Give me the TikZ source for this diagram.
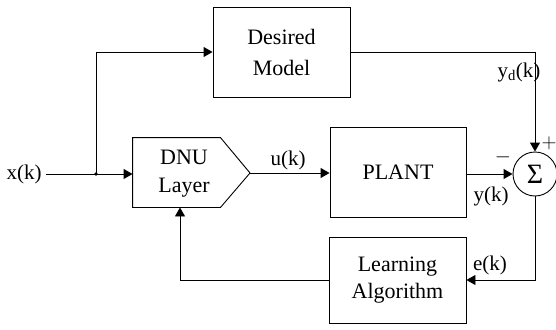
\documentclass[tikz,border=0pt]{standalone}
\usepackage{fontspec}
\setmainfont{Liberation Serif}
\usetikzlibrary{arrows.meta,calc}
\begin{document}
\begin{tikzpicture}[x=1pt,y=-1pt,
  line width=0.9pt,
  >={Triangle[length=9pt,width=10pt]},
  blk/.style={draw,rectangle,inner sep=0pt,align=center,font=\fontsize{22}{27}\selectfont},
  lbl/.style={inner sep=0pt,font=\fontsize{21}{24}\selectfont},
  sgn/.style={inner sep=0pt,font=\fontsize{22}{24}\selectfont}]
\useasboundingbox (0,0) rectangle (556,329);
% blocks
\node[blk,minimum width=137pt,minimum height=90pt,font=\fontsize{22}{31}\selectfont] (dm) at (281.5,52) {Desired\\Model};
\node[rectangle,inner sep=0pt,minimum width=87pt,minimum height=69pt] (dnu) at (176.5,172.5) {};
\coordinate (dnutip) at (250,173);
\draw (dnu.north west) -- (dnu.north east) -- (dnutip) -- (dnu.south east) -- (dnu.south west) -- cycle;
\node[align=center,inner sep=0pt,font=\fontsize{22}{28}\selectfont] (dnutxt) at (184,174) {DNU\\Layer};
\node[blk,minimum width=136pt,minimum height=90pt] (plant) at (398,172) {PLANT};
\node[draw,circle,minimum size=44pt,inner sep=0pt,font=\fontsize{28}{30}\selectfont] (sum) at (535,174) {Σ};
\node[blk,minimum width=137pt,minimum height=86pt] (la) at (397.5,280) {Learning\\Algorithm};
% labels
\node[lbl] (xk) at (24,174) {x(k)};
\node[lbl] (uk) at (288,160) {u(k)};
\node[lbl] (yk) at (491,196) {y(k)};
\node[lbl] (ydk) at (519,72) {y$_{\mathrm{d}}$(k)};
\node[lbl] (ek) at (490,265) {e(k)};
\node[sgn] (minus) at (503,157) {$-$};
\node[sgn] (plus) at (549,143) {$+$};
% connectors
\coordinate (jn) at (96,174);
\draw[->] (xk.east) ++(4,0) -- (dnu.west |- jn);
\draw[->] (jn) |- (dm.west);
\fill (jn) circle (1.8pt);
\draw[->] (dnutip) -- (plant.west |- dnutip);
\draw[->] (plant.east |- sum.west) -- (sum.west);
\draw[->] (dm.east) -| (sum.north);
\draw[->] (sum.south) |- (la.east);
\draw[->] (la.west) -| (dnu.south -| 180,0);
\end{tikzpicture}
\end{document}
